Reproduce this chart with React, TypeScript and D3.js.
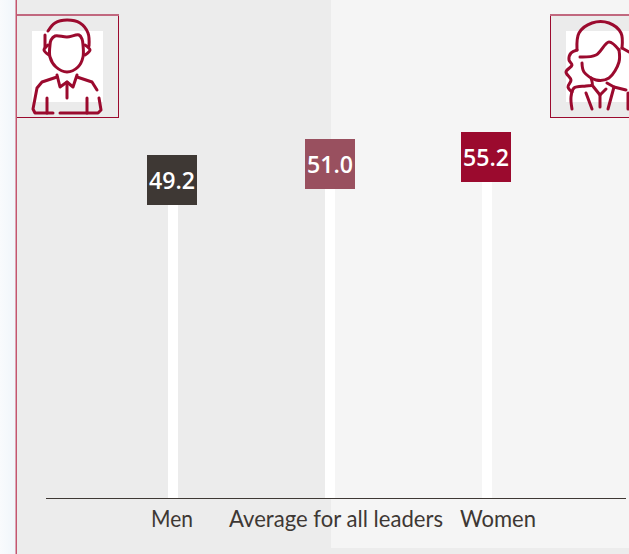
import React from "react";
import * as d3 from "d3";

const categories = ["Men", "Average for all leaders", "Women"];
const values = [49.2, 51.0, 55.2];
const barColors = ["#3e3834", "#99505f", "#9b0a2e"];
const W = 629, H = 554;
const CRIMSON = "#9b0a2e";

const x = d3.scalePoint<string>().domain(categories).range([173, 487]);
// Reference's marks do not sit on a single linear slope, so the scale is piecewise.
const y = d3.scaleLinear().domain([0, 49.2, 51.0, 55.2]).range([498, 155, 139, 132]);

type P = [number, number];
const curve = d3.line<P>().curve(d3.curveCatmullRom.alpha(0.5));
const straight = d3.line<P>();

const manCurves: P[][] = [
  [[48, 31], [55, 23], [67, 20], [80, 23], [88, 33], [89, 46]],
  [[45, 35], [45, 47]],
  [[50, 45], [51, 40], [55, 36], [67, 37], [79, 35], [82, 39], [83, 45], [83, 57], [78, 67], [67, 72], [56, 67], [50, 57], [50, 45]],
  [[48, 45], [44, 50], [49, 55]],
  [[85, 45], [90, 50], [85, 55]],
];
const manLines: P[][] = [
  [[57, 77], [42, 82], [37, 88], [33, 109], [35, 113], [53, 113]],
  [[77, 77], [92, 82], [97, 90]],
  [[99, 98], [101, 110], [98, 113], [60, 113]],
  [[57, 75], [60, 87], [67, 82], [73, 87], [77, 75]],
  [[67, 82], [67, 98]],
  [[47, 98], [47, 113]],
  [[87, 98], [87, 113]],
];
const womanCurves: P[][] = [
  [[577, 50], [579, 33], [592, 23], [609, 23], [621, 33], [622, 48]],
  [[580, 57], [596, 55], [609, 42], [619, 50]],
  [[619, 50], [619, 62], [609, 78], [596, 80], [584, 72], [582, 63]],
  [[577, 50], [571, 53], [569, 60], [572, 65], [566, 72], [571, 80], [568, 87], [572, 92]],
  [[591, 78], [592, 85], [586, 86], [574, 88], [571, 97], [572, 109]],
  [[622, 48], [629, 52]],
];
const womanLines: P[][] = [
  [[592, 85], [600, 95], [606, 89]],
  [[600, 95], [600, 107]],
  [[586, 93], [592, 109]],
  [[607, 83], [614, 87], [608, 109]],
  [[614, 87], [626, 90]],
  [[628, 93], [628, 109]],
];

const iconStroke = { fill: "none", stroke: CRIMSON, strokeWidth: 3, strokeLinecap: "round" as const, strokeLinejoin: "round" as const };

function Icon({ curves, lines }: { curves: P[][]; lines: P[][] }) {
  return (
    <g {...iconStroke}>
      {curves.map((p, i) => <path key={"c" + i} d={curve(p)!} />)}
      {lines.map((p, i) => <path key={"l" + i} d={straight(p)!} />)}
    </g>
  );
}

function Box({ left }: { left: number }) {
  return (
    <g>
      <rect x={left + 0.5} y={15.5} width={102} height={102} fill="#ebebeb" stroke={CRIMSON} strokeWidth={1} />
      <rect x={left} y={14} width={103} height={2} fill="#c1687f" />
      <rect x={left + 16} y={31} width={71} height={71} fill="#ffffff" />
    </g>
  );
}

export default function App() {
  return (
    <svg width={W} height={H} style={{ position: "fixed", left: 0, top: 0, display: "block" }}>
      <defs>
        <linearGradient id="strip" x1="0" x2="1" y1="0" y2="0">
          <stop offset="0" stopColor="#f9fbfd" />
          <stop offset="1" stopColor="#f0f6fb" />
        </linearGradient>
      </defs>
      <rect width={W} height={H} fill="#ececec" />
      <rect x={0} y={0} width={16} height={H} fill="url(#strip)" />
      <rect x={331} y={0} width={298} height={548} fill="#f5f5f5" />

      <Box left={16} />
      <Icon curves={manCurves} lines={manLines} />
      <Box left={550} />
      <Icon curves={womanCurves} lines={womanLines} />
      <rect x={15.5} y={0} width={1.5} height={H} fill="#c4566f" />

      {categories.map((c, i) => (
        <rect key={c} x={x(c)! - 5} y={y(values[i])} width={10} height={y(0) - y(values[i])} fill="#ffffff" />
      ))}
      <line x1={46} x2={626} y1={498.5} y2={498.5} stroke="#3e3834" strokeWidth={1} />
      {categories.map((c, i) => {
        const cx = x(c)! + (i === 1 ? 0 : -1);
        return (
          <g key={c}>
            <rect x={cx - 25} y={y(values[i])} width={50} height={50} fill={barColors[i]} />
            <text x={cx} y={y(values[i]) + 34} textAnchor="middle" fill="#ffffff"
              style={{ fontFamily: "'Open Sans', sans-serif", fontSize: 23.5, fontWeight: 600 }}
              textLength={46} lengthAdjust="spacingAndGlyphs">
              {values[i].toFixed(1)}
            </text>
          </g>
        );
      })}
      {categories.map((c, i) => (
        <text key={c} x={[172, 336, 498][i]} y={527} textAnchor="middle" fill="#3e3834"
          style={{ fontFamily: "Lato, sans-serif", fontSize: 23.5 }} textLength={[42, 214, 76][i]} lengthAdjust="spacingAndGlyphs">
          {c}
        </text>
      ))}
    </svg>
  );
}
